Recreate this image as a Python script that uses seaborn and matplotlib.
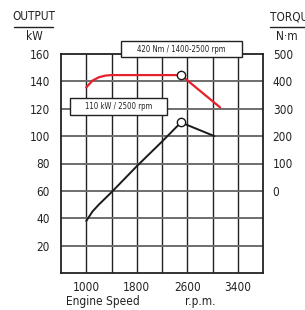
import numpy as np
import pandas as pd
import matplotlib
matplotlib.use("Agg")
import matplotlib.pyplot as plt
import seaborn as sns
from matplotlib.patches import Rectangle
from matplotlib.lines import Line2D

# Data
power_rpm = [1000, 1100, 1200, 1400, 1800, 2200, 2500, 3030]
power_kw = [38, 45, 50, 59, 78, 96, 110, 100]
torque_rpm = [1000, 1100, 1200, 1300, 1400, 1800, 2200, 2500, 3120]
torque_nm = [378, 403, 415, 421, 423, 423, 423, 423, 305]
x_ticks = [1000, 1800, 2600, 3400]
kw_ticks = [20, 40, 60, 80, 100, 120, 140, 160]
nm_ticks = [0, 100, 200, 300, 400, 500]

sns.set_style("white")
plt.rcParams["font.family"] = ["DejaVu Sans"]
plt.rcParams["font.stretch"] = "condensed"

W, H = 305, 310
fig = plt.figure(figsize=(W / 100, H / 100), dpi=100)
ax = fig.add_axes([61 / W, 1 - 273 / H, 202 / W, 219 / H])

# grid
for x in np.arange(1000, 3800, 400):
    ax.axvline(x, color="#222222", lw=1.0, zorder=1)
for y in kw_ticks[:-1]:
    ax.axhline(y, color="#6e6e6e", lw=1.4, zorder=1)

df_p = pd.DataFrame({"rpm": power_rpm, "kw": power_kw})
df_t = pd.DataFrame({"rpm": torque_rpm, "nm": torque_nm})
# torque drawn on the kW scale: 0 Nm sits at 60 kW, 100 Nm per 20 kW
df_t["kw_eq"] = 60 + df_t["nm"] / 5

sns.lineplot(data=df_p, x="rpm", y="kw", color="#1a1a1a", lw=1.4, ax=ax,
             zorder=3, estimator=None)
sns.lineplot(data=df_t, x="rpm", y="kw_eq", color="#e8202a", lw=1.6, ax=ax,
             zorder=3, estimator=None)
ax.plot([2500], [110], "o", ms=6, mfc="white", mec="#1a1a1a", mew=1, zorder=4)
ax.plot([2500], [60 + 423 / 5], "o", ms=6, mfc="white", mec="#1a1a1a", mew=1, zorder=4)

ax.set_xlim(600, 3800)
ax.set_ylim(0, 160)
ax.set_xticks(x_ticks)
ax.set_yticks(kw_ticks)
ax.tick_params(length=0, labelsize=8.5, colors="#222222")
ax.tick_params(axis="y", pad=8)
ax.tick_params(axis="x", pad=6)
ax.set_xlabel("")
ax.set_ylabel("")
for s in ax.spines.values():
    s.set_color("#222222")
    s.set_linewidth(1.3)
    s.set_visible(True)

ax2 = ax.twinx()
ax2.set_ylim(-300, 500)
ax2.set_yticks(nm_ticks)
ax2.tick_params(length=0, labelsize=8.5, pad=7, colors="#222222")
for s in ax2.spines.values():
    s.set_visible(False)

# annotation boxes
ax.add_patch(Rectangle((0.297, 0.986), 0.599, 0.073, transform=ax.transAxes,
                       fc="white", ec="#222222", lw=1, clip_on=False, zorder=5))
ax.text(0.5965, 1.022, "420 Nm / 1400-2500 rpm", transform=ax.transAxes,
        ha="center", va="center", fontsize=5.6, zorder=6, color="#222222")
ax.add_patch(Rectangle((0.045, 0.721), 0.48, 0.078, transform=ax.transAxes,
                       fc="white", ec="#222222", lw=1, clip_on=False, zorder=5))
ax.text(0.285, 0.76, "110 kW / 2500 rpm", transform=ax.transAxes,
        ha="center", va="center", fontsize=5.6, zorder=6, color="#222222")

# axis titles
fig.text(34 / W, 1 - 17 / H, "OUTPUT", ha="center", va="center", fontsize=8.5, color="#222222")
fig.add_artist(Line2D([14 / W, 53 / W], [1 - 27 / H] * 2, color="#222222", lw=1))
fig.text(34 / W, 1 - 36 / H, "kW", ha="center", va="center", fontsize=8.5, color="#222222")
fig.text(270 / W, 1 - 17 / H, "TORQUE", ha="left", va="center", fontsize=8.5, color="#222222")
fig.add_artist(Line2D([270 / W, 305 / W], [1 - 27 / H] * 2, color="#222222", lw=1))
fig.text(287 / W, 1 - 36 / H, "N·m", ha="center", va="center", fontsize=8.5, color="#222222")
fig.text(103 / W, 1 - 302 / H, "Engine Speed", ha="center", va="center", fontsize=8.5, color="#222222")
fig.text(200 / W, 1 - 302 / H, "r.p.m.", ha="center", va="center", fontsize=8.5, color="#222222")

fig.savefig("out.png", dpi=100)
